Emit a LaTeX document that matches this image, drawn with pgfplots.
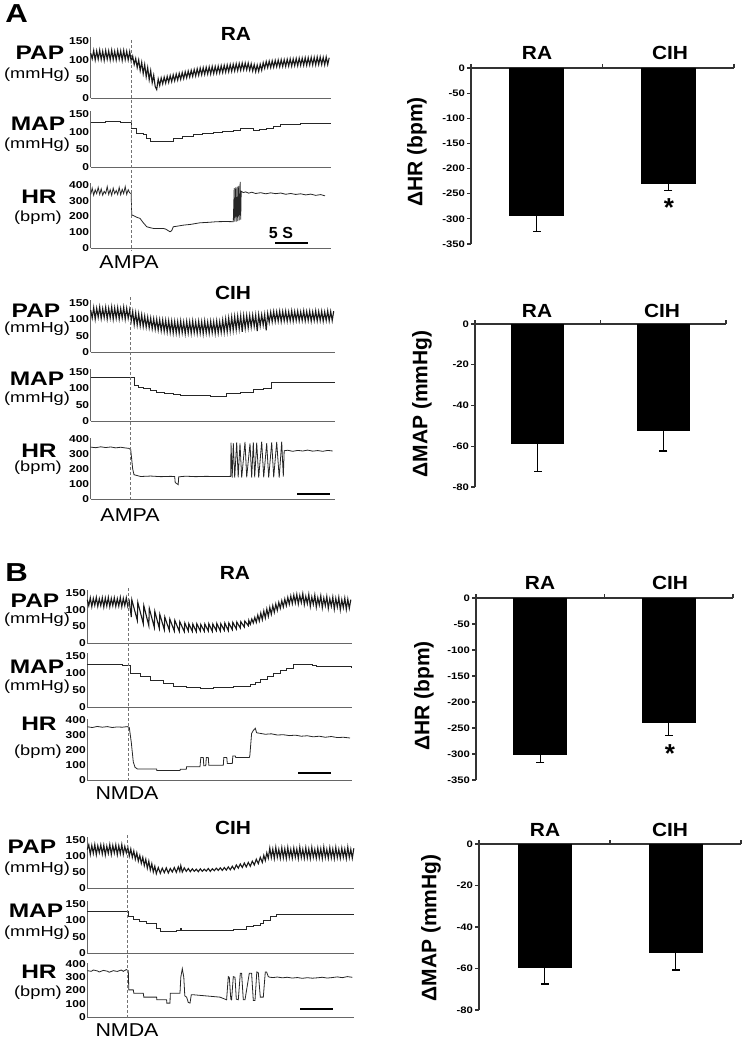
\documentclass[border=0pt]{standalone}
\usepackage{fontspec}
\setmainfont{Liberation Sans}
\usepackage{graphicx}
\usepackage{pgfplots}
\pgfplotsset{compat=1.18}

\newcommand{\wide}[2][1.2]{\scalebox{#1}[1]{#2}}

\pgfplotsset{
  trace/.style={scale only axis, anchor=south west, axis lines=left,
    axis line style={-, black!60, line width=0.5pt},
    xmin=0, ymin=0, xtick=\empty, major tick length=0pt, ytick style={draw=none}, clip=false,
    yticklabel={\wide{\pgfmathprintnumber[assume math mode=true]{\tick}}},
    yticklabel style={font=\fontsize{5}{5}\selectfont\bfseries, inner sep=0.6pt}},
  pm/.style={trace, ymax=160, ytick={0,50,100,150}},
  hr/.style={trace, ymax=410, ytick={0,100,200,300,400}},
  bars/.style={scale only axis, anchor=north west, axis y line=left, axis x line=top,
    axis line style={-, black!80, line width=0.6pt},
    xmin=0.5, xmax=2.5, xtick={0.5,1.5,2.5}, xticklabels={},
    tick align=outside, major tick length=2pt, tick style={black!80, line width=0.6pt},
    yticklabel={\wide{\pgfmathprintnumber[assume math mode=true]{\tick}}},
    yticklabel style={font=\fontsize{4.7}{5}\selectfont\bfseries, inner sep=0.8pt}},
  bar/.style={ybar, fill=black, draw=black, error bars/.cd, y dir=minus, y explicit,
    error bar style={line width=0.6pt, black}, error mark options={rotate=90, mark size=2pt, line width=0.6pt}},
}
\tikzset{
  tr/.style={black!85, line width=0.4pt},
  trp/.style={black!90, line width=0.55pt},
  big/.style={font=\fontsize{13}{13}\selectfont\bfseries, inner sep=0},
  ttl/.style={font=\fontsize{9.5}{10}\selectfont\bfseries, inner sep=0},
  lab/.style={font=\fontsize{9.8}{10}\selectfont\bfseries, inner sep=0},
  unit/.style={font=\fontsize{7.3}{8}\selectfont, inner sep=0},
  drug/.style={font=\fontsize{9.3}{10}\selectfont, inner sep=0},
  yl/.style={font=\fontsize{10.5}{11}\selectfont\bfseries, rotate=90, inner sep=0},
  vl/.style={black!55, line width=0.4pt, dash pattern=on 1.5pt off 1pt},
}

\begin{document}
\begin{tikzpicture}[x=0.5pt, y=-0.5pt]
\useasboundingbox (0,0) rectangle (742,1038);
% anchor points of the panels, in pixels of the reference
\coordinate (p1) at (90.7,98);   \coordinate (m1) at (90.7,167);  \coordinate (h1) at (90.7,248);
\coordinate (p2) at (90.7,352);  \coordinate (m2) at (90.7,421);  \coordinate (h2) at (90.7,499);
\coordinate (p3) at (87.3,643);  \coordinate (m3) at (87.3,707);  \coordinate (h3) at (87.3,780);
\coordinate (p4) at (87.3,888);  \coordinate (m4) at (87.3,953);  \coordinate (h4) at (87.3,1017);
\coordinate (b1) at (471,68);    \coordinate (b2) at (475,324);
\coordinate (b3) at (476,598);   \coordinate (b4) at (479,844);

% ---------------- A, RA ----------------
\begin{axis}[pm, at={(p1)}, width=120.15pt, height=30.4pt, xmax=240.3]
\addplot[trp] coordinates {(0,118)(1.5,103)(3,125)(4.5,100)(6,124)(7.5,102)(9,126)(10.5,101)(12,123)(13.5,99)(15,125)(16.5,102)(18,124)(19.5,100)(21,126)(22.5,101)(24,123)(25.5,100)(27,125)(28.5,102)(30,124)(31.5,99)(33,125)(34.5,101)(36,123)(37.5,100)(39,122)
(40.5,96)(42,110)(43.5,88)(45,104)(46.5,80)(48,100)(49.5,72)(51,94)(52.5,64)(54,88)(55.5,56)(57,80)(58.5,48)(60,72)(61.5,40)(63,60)(64.5,30)(66,22)
(67.5,50)(69,33)(70.5,53)(72,37)(73.5,55)(75,39)(76.5,57)(78,41)(79.5,59)(81,43)(82.5,61)(84,45)(85.5,63)(87,47)(88.5,65)(90,49)(91.5,67)(93,51)(94.5,69)(96,53)(97.5,71)(99,55)(100.5,73)(102,57)(103.5,75)(105,58)(106.5,77)(108,60)(109.5,79)
(111,61)(112.5,80)(114,62)(115.5,81)(117,63)(118.5,82)(120,63)(121.5,83)(123,64)(124.5,83)(126,65)(127.5,84)(129,66)(130.5,85)(132,67)(133.5,86)(135,68)(136.5,87)(138,69)(139.5,88)(141,70)(142.5,89)(144,71)(145.5,90)(147,72)(148.5,91)(150,73)(151.5,92)(153,74)(154.5,92)(156,74)(157.5,92)(159,73)
(160.5,90)(162,71)(163.5,88)(165,69)(166.5,87)(168,70)(169.5,89)(171,73)(172.5,93)
(174,78)(175.5,96)(177,80)(178.5,97)(180,80)(181.5,98)(183,81)(184.5,99)(186,82)(187.5,100)(189,82)(190.5,101)(192,83)(193.5,101)(195,83)(196.5,102)(198,84)(199.5,103)(201,84)(202.5,103)(204,85)(205.5,104)(207,85)(208.5,105)(210,86)(211.5,105)(213,86)(214.5,106)(216,86)(217.5,106)(219,87)(220.5,107)(222,87)(223.5,107)(225,87)(226.5,108)(228,88)(229.5,108)(231,88)(232.5,107)(234,87)(235.5,108)(237,88)(238.5,106)};
\end{axis}
\begin{axis}[pm, at={(m1)}, width=120.15pt, height=28.25pt, xmax=240.3]
\addplot[tr, const plot] coordinates {(0,126)(15,128)(30,125)(41,110)(46,95)(52.6,91)(56,81)(59.3,73)(71,73)(82.6,81)(92,86)(102.6,91)(112,95)(122.6,98)(132,101)(142.6,105)(150,108)(156,110)(162.6,103)(169,106)(176,110)(183,115)(189.3,120)(200,122)(209.3,124)(240.3,124)};
\end{axis}
\begin{axis}[hr, at={(h1)}, width=120.15pt, height=32.3pt, xmax=240.3]
\addplot[tr] coordinates {(0,340)(1.5,380)(3,335)(4.5,370)(6,345)(7.5,385)(9,340)(10.5,375)(12,335)(13.5,360)(15,345)(16.5,390)(18,340)(19.5,370)(21,335)(22.5,380)(24,345)(25.5,365)(27,340)(28.5,385)(30,338)(31.5,372)(33,345)(34.5,390)(36,340)(37.5,370)(39,350)(40.5,345)
(41,210)(43,205)(46,195)(49.3,188)(52,165)(56,135)(60,128)(63,124)(72.6,124)(75,120)(79.3,103)(81,110)(82.6,135)(86,138)(92.6,145)(100,150)(109.3,160)(118,163)(126,167)(135,168)(142.6,167)
(143.5,380)(144,167)(145,385)(145.5,167)(146.5,390)(147,170)(148,395)(148.5,175)(149.5,420)(150,180)(150.5,360)
(152.6,352)(155,356)(158,348)(161,354)(165,346)(170,351)(175,344)(180,350)(185,345)(190,349)(195,341)(200,346)(205,340)(210,344)(215,337)(220,342)(225,334)(230,339)(234.3,331)};
\end{axis}

% ---------------- A, CIH ----------------
\begin{axis}[pm, at={(p2)}, width=122.15pt, height=26.15pt, xmax=244.3]
\addplot[trp] coordinates {(0,128)(1.5,104)(3,136)(4.5,100)(6,134)(7.5,106)(9,138)(10.5,102)(12,133)(13.5,105)(15,137)(16.5,101)(18,134)(19.5,104)(21,138)(22.5,100)(24,135)(25.5,103)(27,136)(28.5,101)(30,133)(31.5,104)(33,137)(34.5,100)(36,134)(37.5,103)(39,130)
(40.5,95)(42,124)(43.5,84)(45,120)(46.5,82)(48,117)(49.5,80)(51,114)(52.5,78)(54,110)(55.5,76)(57,107)(58.5,74)(60,104)(61.5,71)(63,102)(64.5,69)(66,101)(67.5,67)(69,99)(70.5,65)(72,98)(73.5,63)(75,97)(76.5,61)(78,96)(79.5,60)(81,95)(82.5,58)
(84,94)(85.5,58)(87,93)(88.5,57)(90,95)(91.5,59)(93,92)(94.5,56)(96,94)(97.5,58)(99,93)(100.5,57)(102,95)(103.5,59)(105,92)(106.5,57)(108,94)(109.5,58)(111,93)(112.5,56)(114,95)(115.5,58)(117,92)(118.5,57)(120,94)(121.5,59)(123,93)(124.5,57)(126,95)(127.5,58)(129,93)
(130.5,60)(132,98)(133.5,60)(135,101)(136.5,62)(138,104)(139.5,64)(141,107)(142.5,66)(144,109)(145.5,68)(147,110)(148.5,70)(150,111)(151.5,62)(153,111)(154.5,72)(156,112)(157.5,74)(159,112)(160.5,76)(162,113)(163.5,78)(165,113)(166.5,64)(168,114)(169.5,80)(171,114)(172.5,82)(174,115)(175.5,66)(177,118)
(178.5,90)(180,122)(181.5,92)(183,124)(184.5,93)(186,123)(187.5,94)(189,125)(190.5,93)(192,124)(193.5,95)(195,125)(196.5,94)(198,123)(199.5,95)(201,126)(202.5,94)(204,124)(205.5,96)(207,125)(208.5,95)(210,123)(211.5,96)(213,126)(214.5,95)(216,124)(217.5,96)(219,125)(220.5,94)(222,123)(223.5,96)(225,126)(226.5,95)(228,124)(229.5,96)(231,125)(232.5,94)(234,123)(235.5,96)(237,126)(238.5,95)(240,124)(241.5,96)(243,125)};
\end{axis}
\begin{axis}[pm, at={(m2)}, width=122.15pt, height=26.15pt, xmax=244.3]
\addplot[tr, const plot] coordinates {(0,132)(43.6,109)(48,104)(52.6,99)(60,94)(66,89)(74,84)(82.6,80)(89.3,78)(109.3,77)(120,76)(129.3,75)(136,84)(149.3,89)(162.6,96)(172.6,101)(181,117)(244.3,117)};
\end{axis}
\begin{axis}[hr, at={(h2)}, width=122.15pt, height=30.75pt, xmax=244.3]
\addplot[tr] coordinates {(0,346)(5,342)(10,348)(15,343)(20,347)(25,341)(30,345)(35,340)(38,338)(40,330)
(42,200)(43.3,162)(50,150)(60,153)(70,149)(80,151)(84,150)(84.5,110)(87.5,96)(88,148)(95,152)(105,149)(115,151)(125,150)(135,150)(140,151)
(140.3,375)(141.5,142)(142.6,372)(144,142)(146,378)(147.5,145)(149.3,370)(151,142)(154.3,380)(156,145)(159.3,370)(161,142)(162.6,378)(164,145)(166,375)(168,143)(171,383)(173,145)(176,372)(178,142)(181,378)(183,145)(186,380)(188.5,142)(191,382)(192.6,150)(193.5,322)
(197,325)(202,318)(207,324)(212,320)(217,326)(222,319)(227,323)(232,318)(237,324)(242,320)};
\end{axis}

% ---------------- B, RA ----------------
\begin{axis}[pm, at={(p3)}, width=132.2pt, height=26.65pt, xmax=264.4]
\addplot[trp] coordinates {(0,130)(1.5,112)(3,136)(4.5,109)(6,134)(7.5,113)(9,137)(10.5,110)(12,133)(13.5,112)(15,136)(16.5,108)(18,135)(19.5,111)(21,137)(22.5,109)(24,134)(25.5,112)(27,136)(28.5,110)(30,133)(31.5,111)(33,137)(34.5,109)(36,134)(37.5,112)(39,136)(40.5,110)(42,125)
(44,78)(44.5,130)(50,68)(50.5,122)(56,58)(56.5,112)(61.5,52)(62,104)(67,47)(67.5,95)(72,44)(72.5,86)(77,40)(77.5,78)(82,38)(82.5,72)(87,36)(87.5,68)(92,35)(92.5,64)(97,34)(97.5,60)
(101,36)(101.5,58)(105,35)(105.5,57)(109,34)(109.5,58)(113,36)(113.5,56)(117,35)(117.5,57)(121,36)(121.5,58)(125,35)(125.5,57)(129,37)(129.5,59)(133,36)(133.5,58)(137,38)(137.5,60)(141,37)(141.5,60)(145,40)(145.5,62)(149,42)(149.5,63)(153,45)(153.5,64)(157,48)(157.5,66)(161,52)(161.5,68)
(163,56)(164.5,72)(166,60)(167.5,77)(169,62)(170.5,84)(172,66)(173.5,90)(175,70)(176.5,96)(178,75)(179.5,102)(181,80)(182.5,107)(184,86)(185.5,112)(187,92)(188.5,117)(190,98)(191.5,122)(193,104)(194.5,127)(196,108)(197.5,132)(199,112)(200.5,137)(202,116)(203.5,141)(205,118)(206.5,144)
(208,120)(209.5,146)(211,117)(212.5,143)(214,121)(215.5,148)(217,115)(218.5,140)(220,118)(221.5,146)(223,110)(224.5,138)(226,116)(227.5,144)(229,108)(230.5,136)(232,114)(233.5,142)(235,106)(236.5,135)(238,112)(239.5,140)(241,104)(242.5,133)(244,110)(245.5,138)(247,102)(248.5,134)(250,108)(251.5,137)(253,100)(254.5,130)(256,106)(257.5,135)(259,101)(260.5,132)(262,104)(263.5,130)};
\end{axis}
\begin{axis}[pm, at={(m3)}, width=132.2pt, height=27.2pt, xmax=264.4]
\addplot[tr, const plot] coordinates {(0,125)(20,124)(35,122)(42.7,99)(52.7,89)(62.7,79)(76,69)(86,61)(99.3,59)(112.7,54)(120,56)(126,57)(146,62)(162.7,67)(168,72)(172.7,81)(180,90)(186,99)(193,107)(199.3,114)(206,124)(212,126)(219.3,126)(225,123)(229.3,119)(240,118)(264.4,117)};
\end{axis}
\begin{axis}[hr, at={(h3)}, width=132.2pt, height=30.75pt, xmax=264.4]
\addplot[tr] coordinates {(0,355)(5,350)(10,357)(15,352)(20,356)(25,350)(30,354)(35,352)(40,356)(42,350)(44,250)(46,120)(47.7,85)(50,74)(69.3,74)(69.5,64)(92.7,64)(93,72)(99,72)(99.3,88)(112.7,88)(113.5,150)(116,150)(116.5,95)(118.5,95)(119,150)(121,150)(121.5,98)(136,98)(136.5,150)(139.5,150)(140,110)(145,110)(145.5,160)(148,160)(148.5,150)(162,150)(162.5,160)(164.3,310)(166,330)(168,345)(169.3,315)
(172,312)(178,305)(184,308)(190,300)(196,302)(202,296)(208,299)(214,292)(220,295)(226,288)(232,292)(238,285)(244,290)(250,283)(256,285)(262.7,280)};
\end{axis}

% ---------------- B, CIH ----------------
\begin{axis}[pm, at={(p4)}, width=133.5pt, height=25.6pt, xmax=267]
\addplot[trp] coordinates {(0,120)(1.5,135)(3,105)(4.5,133)(6,108)(7.5,136)(9,104)(10.5,132)(12,110)(13.5,135)(15,106)(16.5,134)(18,103)(19.5,131)(21,108)(22.5,136)(24,105)(25.5,133)(27,109)(28.5,135)(30,104)(31.5,132)(33,107)(34.5,136)(36,105)(37.5,130)(39,110)(40.5,128)
(42,100)(43.5,122)(45,96)(46.5,116)(48,90)(49.5,110)(51,84)(52.5,102)(54,77)(55.5,96)(57,70)(58.5,90)(60,62)(61.5,84)(63,56)(64.5,76)(66,50)(67.5,68)(69,45)
(71,64)(73,46)(75,62)(77,48)(79,63)(81,47)(83,61)(85,50)(87,64)(89,49)(91,66)(92.5,52)(93.5,70)(95,50)(97,63)(99,52)(101,61)(103,51)(105,60)(107,52)(109,59)(111,51)(113,60)(115,52)(117,59)(119,53)(121,61)(123,52)(125,60)(127,54)(129,62)(131,55)(133,63)(135,55)(137,64)(139,56)(141,66)(143,57)(145,68)
(147,58)(149,72)(151,62)(153,75)(155,64)(157,78)(159,66)(161,80)(163,68)(165,84)(167,72)(169,90)(171,76)(173,96)(175,80)(176.5,102)(178,86)(179.5,110)
(181,93)(182.5,125)(184,95)(185.5,122)(187,92)(188.5,127)(190,96)(191.5,121)(193,93)(194.5,126)(196,94)(197.5,123)(199,92)(200.5,127)(202,95)(203.5,121)(205,93)(206.5,125)(208,96)(209.5,122)(211,92)(212.5,128)(214,95)(215.5,121)(217,93)(218.5,126)(220,94)(221.5,122)(223,92)(224.5,127)(226,96)(227.5,121)(229,93)(230.5,125)(232,94)(233.5,123)(235,92)(236.5,128)(238,95)(239.5,121)(241,93)(242.5,126)(244,94)(245.5,122)(247,92)(248.5,127)(250,95)(251.5,121)(253,93)(254.5,125)(256,96)(257.5,122)(259,92)(260.5,128)(262,95)(263.5,121)(265,93)(266.5,124)};
\end{axis}
\begin{axis}[pm, at={(m4)}, width=133.5pt, height=26.15pt, xmax=267]
\addplot[tr, const plot] coordinates {(0,127)(41,111)(46,103)(52,97)(59.3,91)(69.3,76)(72.7,66)(89.3,69)(92.7,76)(94,69)(119.3,69)(146,73)(159.3,81)(166,86)(172.7,91)(176,99)(182.7,111)(189.3,117)(267,117)};
\end{axis}
\begin{axis}[hr, at={(h4)}, width=133.5pt, height=27.15pt, xmax=267]
\addplot[tr] coordinates {(0,350)(4,345)(6,355)(10,348)(12,340)(16,352)(20,346)(22,338)(26,350)(30,344)(34,355)(36,345)(39,358)(41,350)
(41.5,205)(46,205)(46.5,180)(56,180)(56.5,150)(69.3,150)(69.5,130)(79.3,130)(79.5,105)(82.7,105)(83,180)(92.7,180)(93.5,300)(95,365)(96.5,300)(97.5,160)(99.3,150)(101,110)(102.7,105)(104,168)(106,168)(132.7,150)(139.3,130)
(141,305)(142,300)(143.5,135)(144.3,130)(146,305)(147.7,300)(149,135)(151,130)(153,330)(154.3,330)(156,130)(157.7,130)(162,330)(164.3,330)(166,125)(167.7,125)(169.5,340)(171,335)(173,150)(176,150)(178,340)(179.3,340)(181,305)(182.7,300)
(186,298)(190,302)(195,296)(200,300)(205,294)(210,298)(215,292)(220,297)(225,293)(230,296)(235,300)(240,294)(245,298)(250,303)(255,297)(260,305)(265,300)};
\end{axis}

% ---------------- bar charts ----------------
\begin{axis}[bars, at={(b1)}, width=131.5pt, height=88pt, ymin=-350, ymax=0, ytick={-350,-300,...,0}]
\addplot[bar width=27pt, bar] coordinates {(1,-293) +- (0,32) (2,-229) +- (0,14)};
\end{axis}
\begin{axis}[bars, at={(b2)}, width=125.5pt, height=81.5pt, ymin=-80, ymax=0, ytick={-80,-60,...,0}]
\addplot[bar width=26pt, bar] coordinates {(1,-58.5) +- (0,14) (2,-52) +- (0,10.3)};
\end{axis}
\begin{axis}[bars, at={(b3)}, width=128.5pt, height=91pt, ymin=-350, ymax=0, ytick={-350,-300,...,0}]
\addplot[bar width=26.5pt, bar] coordinates {(1,-301) +- (0,16) (2,-239) +- (0,26)};
\end{axis}
\begin{axis}[bars, at={(b4)}, width=131pt, height=83pt, ymin=-80, ymax=0, ytick={-80,-60,...,0}]
\addplot[bar width=26.5pt, bar] coordinates {(1,-59.3) +- (0,8.2) (2,-52) +- (0,8.7)};
\end{axis}

% ---------------- text and markers ----------------
\node[big] at (16.7,14) {\wide{A}};
\node[big] at (16.7,573) {\wide{B}};

\node[ttl] at (236,34) {\wide[1.1]{RA}};
\node[ttl] at (233,293) {\wide[1.1]{CIH}};
\node[ttl] at (235,573) {\wide[1.1]{RA}};
\node[ttl] at (233,828) {\wide[1.1]{CIH}};

\foreach \x/\y/\t/\u in {40/53/PAP/75, 38/124/MAP/145, 36/311/PAP/329, 37/379/MAP/399, 35/601/PAP/620, 37/667/MAP/687, 32/847/PAP/869, 36/911/MAP/933}
  {\node[lab] at (\x,\y) {\wide[1.25]{\t}};
   \node[unit] at (37,\u) {\wide[1.25]{(mmHg)}};}
\foreach \y/\u in {197/218, 451/468, 724/752, 972/993}
  {\node[lab] at (39,\y) {\wide[1.25]{HR}};
   \node[unit] at (38,\u) {\wide[1.25]{(bpm)}};}

\node[drug] at (129,262) {\wide[1.15]{AMPA}};
\node[drug] at (130,515) {\wide[1.15]{AMPA}};
\node[drug] at (127,793) {\wide[1.15]{NMDA}};
\node[drug] at (127,1030) {\wide[1.15]{NMDA}};

\draw[vl] (131,40) -- (131,251);
\draw[vl] (130.7,297) -- (130.7,502);
\draw[vl] (128.7,588) -- (128.7,783);
\draw[vl] (127.7,835) -- (127.7,1019);

\node[font=\fontsize{8}{8}\selectfont\bfseries, inner sep=0] at (281,233) {5 S};
\draw[line width=1pt] (275,243) -- (308,243);
\draw[line width=1pt] (297,494) -- (330,494);
\draw[line width=1pt] (298,773) -- (331,773);
\draw[line width=1pt] (300,1009) -- (333,1009);

\node[ttl] at (537,53) {\wide[1.1]{RA}};
\node[ttl] at (670,53) {\wide[1.1]{CIH}};
\node[ttl] at (537,311) {\wide[1.1]{RA}};
\node[ttl] at (662,311) {\wide[1.1]{CIH}};
\node[ttl] at (540,583) {\wide[1.1]{RA}};
\node[ttl] at (670,583) {\wide[1.1]{CIH}};
\node[ttl] at (545,830) {\wide[1.1]{RA}};
\node[ttl] at (670,830) {\wide[1.1]{CIH}};

\node[yl] at (417,152) {ΔHR (bpm)};
\node[yl] at (422,404) {ΔMAP (mmHg)};
\node[yl] at (424,696) {ΔHR (bpm)};
\node[yl] at (431,928) {ΔMAP (mmHg)};

\node[font=\fontsize{13}{13}\selectfont\bfseries, anchor=base, inner sep=0] at (669,216) {*};
\node[font=\fontsize{13}{13}\selectfont\bfseries, anchor=base, inner sep=0] at (670,762) {*};
\end{tikzpicture}
\end{document}
